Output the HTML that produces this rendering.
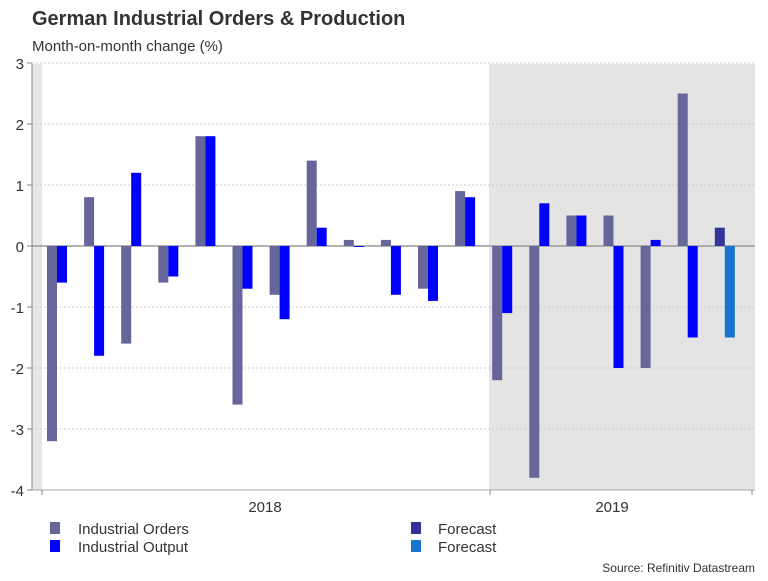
<!DOCTYPE html>
<html><head><meta charset="utf-8"><style>
body{margin:0;background:#fff;font-family:"Liberation Sans",sans-serif;}
</style></head><body>
<svg width="768" height="576" xmlns="http://www.w3.org/2000/svg" font-family="Liberation Sans, sans-serif">
<text x="32" y="25" font-size="20" font-weight="bold" fill="#333">German Industrial Orders &amp; Production</text>
<text x="32" y="51" font-size="15" fill="#333">Month-on-month change (%)</text>
<g id="plot"></g>
<g font-size="15" fill="#333">
<rect x="50" y="522" width="10" height="12" fill="#66669a"/>
<text x="78" y="534">Industrial Orders</text>
<rect x="50" y="540" width="10" height="12" fill="#0000ff"/>
<text x="78" y="552">Industrial Output</text>
<rect x="411" y="522" width="10" height="12" fill="#333399"/>
<text x="438" y="534">Forecast</text>
<rect x="411" y="540" width="10" height="12" fill="#1874cd"/>
<text x="438" y="552">Forecast</text>
</g>
<text x="755" y="572" font-size="12" fill="#333" text-anchor="end">Source: Refinitiv Datastream</text>
</svg>
<script>
const months = ["2018-01","2018-02","2018-03","2018-04","2018-05","2018-06","2018-07","2018-08","2018-09","2018-10","2018-11","2018-12","2019-01","2019-02","2019-03","2019-04","2019-05","2019-06","2019-07"];
const orders = [-3.2,0.8,-1.6,-0.6,1.8,-2.6,-0.8,1.4,0.1,0.1,-0.7,0.9,-2.2,-3.8,0.5,0.5,-2.0,2.5,0.3];
const output = [-0.6,-1.8,1.2,-0.5,1.8,-0.7,-1.2,0.3,0.0,-0.8,-0.9,0.8,-1.1,0.7,0.5,-2.0,0.1,-1.5,-1.5];
const forecastIndex = [18];
const yTicks = [3,2,1,0,-1,-2,-3,-4];
const yearLabels = ["2018","2019"];
const NS="http://www.w3.org/2000/svg";
const g=document.getElementById('plot');
const y=v=>246-v*61;
const x=i=>57+i*37.1;
function mk(t,a){const e=document.createElementNS(NS,t);for(const k in a)e.setAttribute(k,a[k]);g.appendChild(e);return e;}
let e;
e=mk('rect',{x:32,y:64,width:10,height:426,fill:'#e6e6e6'});


e=mk('rect',{x:489,y:64,width:266,height:426,fill:'#e4e4e4'});


yTicks.forEach(t=>{
 e=mk('line',{x1:32,x2:755,y1:y(t),y2:y(t),stroke:t===0?'#999':'#ccc','stroke-width':t===0?1.5:1,'stroke-dasharray':t===0?'':'2,2'});
 
 
 mk('line',{x1:27,x2:32,y1:y(t),y2:y(t),stroke:'#888'});
 e=mk('text',{x:24,y:y(t)+6,'text-anchor':'end','font-size':15,fill:'#333'});
 e.textContent=t;
 
 
});
e=mk('line',{x1:32,x2:32,y1:64,y2:490,stroke:'#888'});


e=mk('line',{x1:32,x2:755,y1:490,y2:490,stroke:'#aaa'});


[42,490,752].forEach(t=>mk('line',{x1:t,x2:t,y1:490,y2:495,stroke:'#888'}));
[[265,yearLabels[0]],[612,yearLabels[1]]].forEach(([px,l])=>{
 e=mk('text',{x:px,y:512,'text-anchor':'middle','font-size':15,fill:'#333'});
 e.textContent=l;
 
 
});
months.forEach((m,i)=>{
 const fc=forecastIndex.includes(i);
 const o=orders[i], p=output[i];
 e=mk('rect',{x:x(i)-10,y:Math.min(y(o),y(0)),width:10,height:Math.max(Math.abs(y(o)-y(0)),1),fill:fc?'#333399':'#66669a'});
 
 
 e=mk('rect',{x:x(i),y:Math.min(y(p),y(0)),width:10,height:Math.max(Math.abs(y(p)-y(0)),1),fill:fc?'#1874cd':'#0000ff'});
 
 
});
</script>
</body></html>
